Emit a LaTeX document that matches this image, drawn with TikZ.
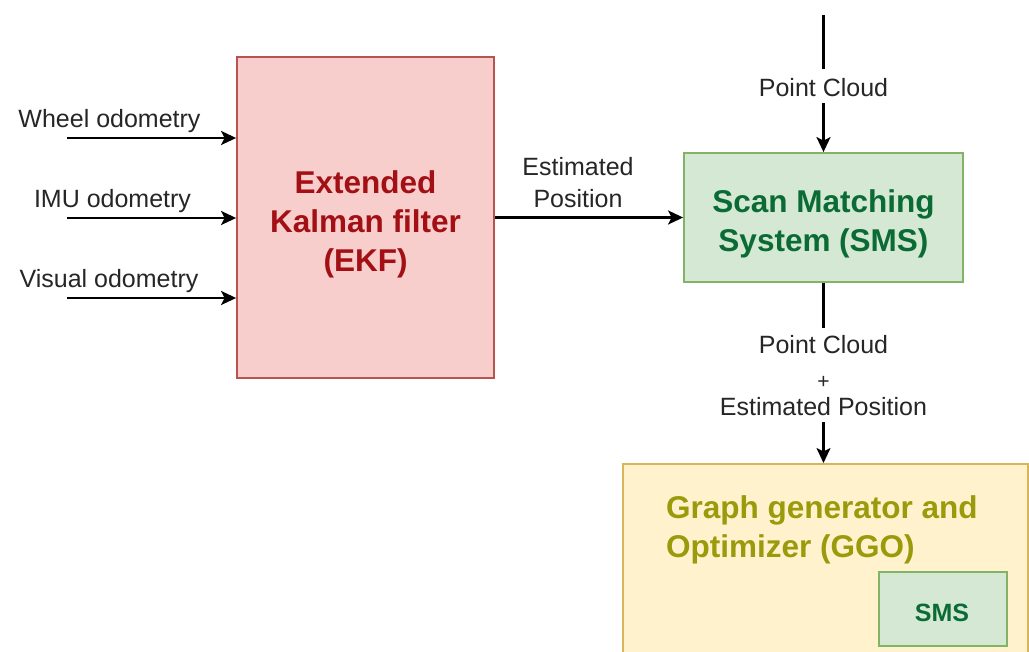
\documentclass[tikz,border=0pt]{standalone}
\usepackage{fontspec}
\setmainfont{Liberation Sans}
\usetikzlibrary{arrows.meta}
\definecolor{ekffill}{HTML}{F8CECC}
\definecolor{ekfline}{HTML}{B85450}
\definecolor{ekftext}{HTML}{A20F14}
\definecolor{smsfill}{HTML}{D5E8D4}
\definecolor{smsline}{HTML}{82B366}
\definecolor{smstext}{HTML}{0A6B35}
\definecolor{ggofill}{HTML}{FFF2CC}
\definecolor{ggoline}{HTML}{D6B656}
\definecolor{ggotext}{HTML}{9A9A0A}
\tikzset{
  blockbox/.style={draw, line width=1.8pt, inner sep=0pt},
  lbl/.style={inner sep=0pt, font=\fontsize{25}{30}\selectfont, text=black!85},
  title/.style={inner sep=0pt, font=\fontsize{31.5}{38}\selectfont\bfseries},
  arr/.style={line width=2.4pt, -{Stealth[length=15pt,width=14pt,inset=3.5pt]}},
}
\begin{document}
\begin{tikzpicture}[x=1pt,y=-1pt]
\useasboundingbox (0,0) rectangle (1029,652);
\fill[white] (0,0) rectangle (1029,652);

% processing blocks
\node[blockbox, fill=ekffill, draw=ekfline, minimum width=257, minimum height=321] (ekf) at (365.5,217.5) {};
\node[blockbox, fill=smsfill, draw=smsline, minimum width=279, minimum height=129] (sms) at (823.5,217.5) {};
\node[blockbox, fill=ggofill, draw=ggoline, minimum width=405, minimum height=210, anchor=north west] (ggo) at (622,463) {};
\node[blockbox, fill=smsfill, draw=smsline, minimum width=128, minimum height=74, anchor=north west] (smsin) at (878,571) {};

% block titles
\node[title, text=ekftext, anchor=base] (ekf1) at (365.5,194) {Extended};
\node[title, text=ekftext, anchor=base] (ekf2) at (365.5,233) {Kalman filter};
\node[title, text=ekftext, anchor=base] (ekf3) at (365.5,272) {(EKF)};
\node[title, text=smstext, anchor=base] (sms1) at (823.5,212.5) {Scan Matching};
\node[title, text=smstext, anchor=base] (sms2) at (823.5,251.5) {System (SMS)};
\node[title, text=ggotext, anchor=base west] (ggo1) at (666,518) {Graph generator and};
\node[title, text=ggotext, anchor=base west] (ggo2) at (666,557) {Optimizer (GGO)};
\node[inner sep=0pt, font=\fontsize{25}{30}\selectfont\bfseries, text=smstext, anchor=base] (smsin1) at (942,621) {SMS};

% odometry inputs
\coordinate (wheel) at (67,138);
\coordinate (imu) at (67,218);
\coordinate (visual) at (67,298);
\draw[arr] (wheel) -- (wheel -| ekf.west);
\draw[arr] (imu) -- (imu -| ekf.west);
\draw[arr] (visual) -- (visual -| ekf.west);
\node[lbl, anchor=base] (wheell) at (109.5,128) {Wheel odometry};
\node[lbl, anchor=base] (imul) at (112.5,208) {IMU odometry};
\node[lbl, anchor=base] (visuall) at (109,288) {Visual odometry};

% EKF -> SMS
\draw[arr] (ekf.east) -- (sms.west);
\node[lbl, anchor=base] (ep1) at (578,176) {Estimated};
\node[lbl, anchor=base] (ep2) at (578,208) {Position};

% point cloud input
\coordinate (pcin) at (823.5,15);
\draw[arr] (pcin) -- (sms.north);
\node[fill=white, minimum width=140, minimum height=34, inner sep=0pt] (pcgap) at (823.5,86) {};
\node[lbl, anchor=base] (pcl) at (823.5,97) {Point Cloud};

% SMS -> GGO
\draw[arr] (sms.south) -- (sms.south |- ggo.north);
\node[fill=white, minimum width=215, minimum height=94, inner sep=0pt] (pegap) at (823.5,375) {};
\node[lbl, anchor=base] (pe1) at (823.5,354) {Point Cloud};
\node[inner sep=0pt, font=\fontsize{21}{24}\selectfont, text=black!85, anchor=base] (pe2) at (823.5,389) {+};
\node[lbl, anchor=base] (pe3) at (823.5,416) {Estimated Position};
\end{tikzpicture}
\end{document}
